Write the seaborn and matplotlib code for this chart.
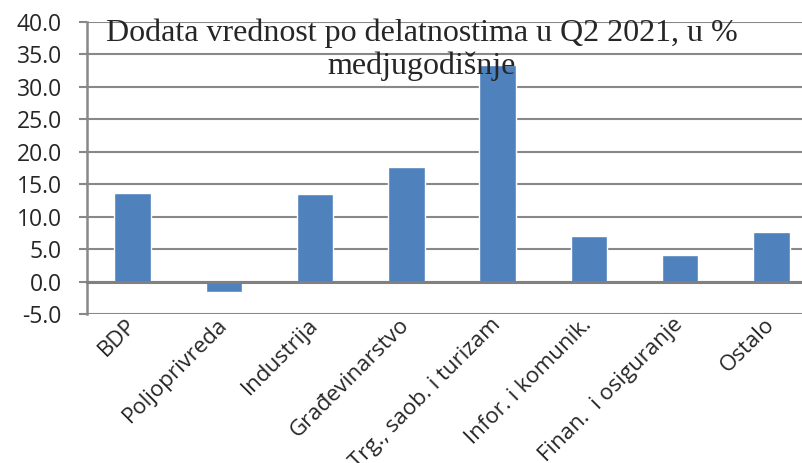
import matplotlib
matplotlib.use("Agg")
import matplotlib.pyplot as plt
import seaborn as sns
import pandas as pd

# Data
categories = ["BDP", "Poljoprivreda", "Industrija", "Građevinarstvo",
              "Trg., saob. i turizam", "Infor. i komunik.", "Finan.  i osiguranje", "Ostalo"]
values = [13.7, -1.6, 13.5, 17.7, 33.3, 7.0, 4.1, 7.6]
y_ticks = [-5, 0, 5, 10, 15, 20, 25, 30, 35, 40]

title_text = "Dodata vrednost po delatnostima u Q2 2021, u %\nmedjugodišnje"

df = pd.DataFrame({"sector": categories, "value": values})

sns.set_style("white")
plt.rcParams["font.family"] = ["Open Sans", "DejaVu Sans"]
plt.rcParams["axes.unicode_minus"] = False

gray = "#888888"

fig = plt.figure(figsize=(8.03, 4.63), dpi=100)
ax = fig.add_axes([87 / 803, (463 - 314) / 463, 730 / 803, 292 / 463])

sns.barplot(data=df, x="sector", y="value", color="#4F81BD", width=0.4,
            saturation=1, ax=ax, zorder=3)

ax.set_xlim(-0.5, len(categories) - 0.5)
ax.set_ylim(-5, 40)
ax.set_yticks(y_ticks)
ax.set_yticklabels([f"{v:.1f}" for v in y_ticks], fontsize=16.5)
ax.yaxis.grid(True, color=gray, linewidth=1.5, zorder=0)
ax.set_axisbelow(True)

# x axis sits on zero, with marks between categories
ax.spines["bottom"].set_position(("data", 0))
ax.spines["bottom"].set_color("#808080")
ax.spines["bottom"].set_linewidth(2.2)
ax.spines["bottom"].set_zorder(4)
ax.spines["left"].set_color(gray)
ax.spines["left"].set_linewidth(1.8)
ax.spines["top"].set_visible(False)
ax.spines["right"].set_visible(False)

ax.set_xticks(range(len(categories)))
ax.set_xticks([i + 0.5 for i in range(len(categories))], minor=True)
ax.set_xticklabels(categories, rotation=45, ha="right", va="center",
                   rotation_mode="anchor", fontsize=16)
ax.tick_params(axis="x", which="major", length=0, pad=29)
ax.tick_params(axis="x", which="minor", length=6, width=1.5, color=gray, direction="out")
ax.tick_params(axis="y", length=6, width=1.5, color=gray, direction="out", pad=12, left=True)

ax.set_xlabel("")
ax.set_ylabel("")

fig.text(422 / 803, 1 - 19 / 463, title_text, ha="center", va="top",
         fontsize=23, family="Liberation Serif", linespacing=1.15)

fig.savefig("out.png", dpi=100)
